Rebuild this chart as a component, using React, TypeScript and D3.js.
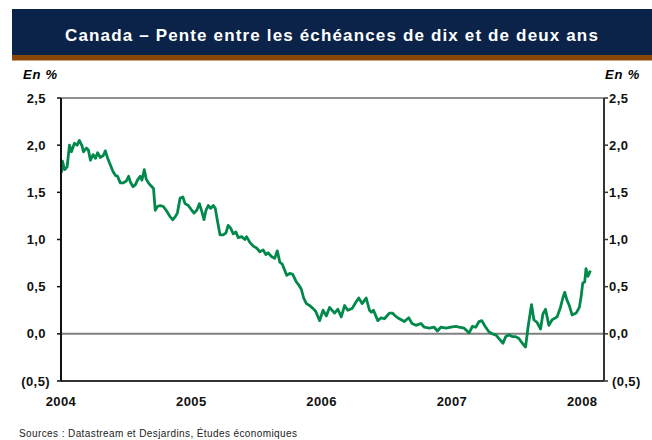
import React from 'react';
import * as d3 from 'd3';

// decimal years
const years = [
  2004.004, 2004.011, 2004.027, 2004.047, 2004.065, 2004.080, 2004.103, 2004.124, 2004.141, 2004.162,
  2004.172, 2004.195, 2004.210, 2004.226, 2004.246, 2004.264, 2004.281, 2004.302, 2004.325, 2004.340,
  2004.356, 2004.379, 2004.399, 2004.417, 2004.434, 2004.455, 2004.478, 2004.501, 2004.519, 2004.532,
  2004.552, 2004.570, 2004.587, 2004.608, 2004.621, 2004.639, 2004.654, 2004.671, 2004.690, 2004.710,
  2004.723, 2004.740, 2004.761, 2004.786, 2004.812, 2004.838, 2004.858, 2004.876, 2004.893, 2004.914,
  2004.935, 2004.952, 2004.977, 2005.003, 2005.021, 2005.042, 2005.062, 2005.080, 2005.097, 2005.113,
  2005.130, 2005.149, 2005.169, 2005.184, 2005.199, 2005.220, 2005.245, 2005.266, 2005.283, 2005.302,
  2005.322, 2005.342, 2005.360, 2005.386, 2005.411, 2005.424, 2005.449, 2005.475, 2005.501, 2005.526,
  2005.551, 2005.572, 2005.589, 2005.615, 2005.640, 2005.660, 2005.679, 2005.698, 2005.709, 2005.732,
  2005.755, 2005.778, 2005.806, 2005.824, 2005.845, 2005.862, 2005.883, 2005.908, 2005.933, 2005.954,
  2005.985, 2006.011, 2006.036, 2006.061, 2006.099, 2006.125, 2006.151, 2006.176, 2006.201, 2006.235,
  2006.265, 2006.285, 2006.311, 2006.342, 2006.367, 2006.382, 2006.398, 2006.431, 2006.457, 2006.482,
  2006.520, 2006.545, 2006.558, 2006.583, 2006.597, 2006.635, 2006.668, 2006.694, 2006.724, 2006.762,
  2006.788, 2006.826, 2006.864, 2006.889, 2006.915, 2006.954, 2006.992, 2007.030, 2007.055, 2007.094,
  2007.132, 2007.157, 2007.183, 2007.208, 2007.229, 2007.254, 2007.285, 2007.310, 2007.336, 2007.361,
  2007.392, 2007.412, 2007.438, 2007.463, 2007.489, 2007.514, 2007.540, 2007.565, 2007.585, 2007.611,
  2007.629, 2007.654, 2007.680, 2007.698, 2007.718, 2007.744, 2007.769, 2007.807, 2007.833, 2007.851,
  2007.866, 2007.882, 2007.901, 2007.922, 2007.953, 2007.978, 2007.992, 2008.004, 2008.019, 2008.029,
  2008.044, 2008.063,
];

// spread 10 ans - 2 ans, en %
const spread = [
  1.71, 1.83, 1.74, 1.77, 2.00, 1.93, 2.02, 2.00, 2.05, 1.99,
  1.93, 1.97, 1.95, 1.84, 1.90, 1.86, 1.92, 1.87, 1.89, 1.94,
  1.87, 1.79, 1.72, 1.68, 1.67, 1.60, 1.60, 1.62, 1.67, 1.61,
  1.56, 1.58, 1.63, 1.67, 1.63, 1.74, 1.64, 1.60, 1.57, 1.54,
  1.31, 1.35, 1.36, 1.35, 1.30, 1.24, 1.21, 1.24, 1.28, 1.44,
  1.45, 1.38, 1.36, 1.31, 1.28, 1.31, 1.38, 1.30, 1.21, 1.31,
  1.36, 1.33, 1.36, 1.33, 1.21, 1.05, 1.05, 1.07, 1.15, 1.12,
  1.06, 1.08, 1.02, 1.03, 1.00, 1.03, 0.97, 0.93, 0.91, 0.87,
  0.89, 0.84, 0.86, 0.82, 0.80, 0.88, 0.76, 0.74, 0.70, 0.62,
  0.64, 0.63, 0.55, 0.52, 0.47, 0.38, 0.32, 0.30, 0.27, 0.24,
  0.14, 0.25, 0.19, 0.28, 0.22, 0.26, 0.18, 0.30, 0.25, 0.27,
  0.34, 0.38, 0.32, 0.38, 0.25, 0.23, 0.25, 0.14, 0.17, 0.16,
  0.22, 0.22, 0.20, 0.17, 0.16, 0.13, 0.17, 0.11, 0.09, 0.11,
  0.07, 0.06, 0.07, 0.03, 0.07, 0.06, 0.07, 0.08, 0.07, 0.06,
  0.01, 0.08, 0.07, 0.13, 0.14, 0.08, 0.02, 0.00, -0.01, -0.05,
  -0.10, -0.03, -0.01, -0.03, -0.03, -0.05, -0.10, -0.14, 0.08, 0.31,
  0.15, 0.12, 0.05, 0.21, 0.26, 0.09, 0.15, 0.18, 0.28, 0.38,
  0.44, 0.36, 0.30, 0.20, 0.22, 0.28, 0.40, 0.54, 0.55, 0.69,
  0.61, 0.67,
];

const yTicks = [2.5, 2.0, 1.5, 1.0, 0.5, 0.0, -0.5];
const xTicks = [2004, 2005, 2006, 2007, 2008];

const title = 'Canada – Pente entre les échéances de dix et de deux ans';
const source = 'Sources : Datastream et Desjardins, Études économiques';

const W = 652;
const H = 440;
const plot = { left: 61, right: 604, top: 98, bottom: 381 };

const fmt = (v: number) => {
  const s = Math.abs(v).toFixed(1).replace('.', ',');
  return v < 0 ? `(${s})` : s;
};

const App = () => {
  const x = d3.scaleLinear().domain([2004, 2008.167]).range([plot.left, plot.right]);
  const y = d3.scaleLinear().domain([-0.5, 2.5]).range([plot.bottom, plot.top]);

  const line = d3.line<number>()
    .x((_, i) => x(years[i]))
    .y(d => y(d));

  const font = 'Arial, "Liberation Sans", sans-serif';

  return (
    <div style={{ position: 'fixed', left: 0, top: 0 }}>
      <svg width={W} height={H} style={{ display: 'block', background: '#fff' }} fontFamily={font}>
        {/* title band */}
        <rect x={12} y={9} width={W - 12} height={46} fill="#0b2349" />
        <rect x={12} y={55} width={W - 12} height={5} fill="#8a4709" />
        <rect x={12} y={60} width={W - 12} height={1} fill="#c9a47a" />
        <text x={332} y={41} textAnchor="middle" fill="#fff" fontSize={17} fontWeight="bold" letterSpacing={1.15}>{title}</text>

        <text x={23} y={79} fontSize={13} fontWeight="bold" fontStyle="italic" fill="#000" letterSpacing={0.8}>En %</text>
        <text x={640} y={79} textAnchor="end" fontSize={13} fontWeight="bold" fontStyle="italic" fill="#000" letterSpacing={0.8}>En %</text>

        {/* frame */}
        <line x1={plot.left} x2={plot.right} y1={plot.top} y2={plot.top} stroke="#6b6b6b" strokeWidth={1.5} />
        <line x1={plot.left} x2={plot.right} y1={y(0)} y2={y(0)} stroke="#808080" strokeWidth={2} />

        {/* series */}
        <path d={line(spread) ?? ''} fill="none" stroke="#00894b" strokeWidth={2.8} strokeLinejoin="round" />

        <line x1={plot.left} x2={plot.right} y1={plot.bottom} y2={plot.bottom} stroke="#333" strokeWidth={2} />
        <line x1={plot.left} x2={plot.left} y1={plot.top} y2={plot.bottom} stroke="#111" strokeWidth={2} />
        <line x1={plot.right} x2={plot.right} y1={plot.top} y2={plot.bottom} stroke="#333" strokeWidth={2} />

        {yTicks.map(t => (
          <g key={t}>
            <line x1={plot.left - 4} x2={plot.left} y1={y(t)} y2={y(t)} stroke="#111" strokeWidth={1.5} />
            <line x1={plot.right} x2={plot.right + 4} y1={y(t)} y2={y(t)} stroke="#333" strokeWidth={1.5} />
            <text x={t < 0 ? 50 : 46} y={y(t) + 4.5} textAnchor="end" fontSize={13} fontWeight="bold" fill="#111" letterSpacing={0.4}>{fmt(t)}</text>
            <text x={t < 0 ? 612 : 609} y={y(t) + 4.5} fontSize={13} fontWeight="bold" fill="#111" letterSpacing={0.4}>{fmt(t)}</text>
          </g>
        ))}

        {xTicks.map(t => (
          <text key={t} x={x(t)} y={406} textAnchor="middle" fontSize={13} fontWeight="bold" fill="#111" letterSpacing={0.4}>{t}</text>
        ))}

        <text x={19} y={437} fontSize={10} fill="#222" letterSpacing={0.4}>{source}</text>
      </svg>
    </div>
  );
};

export default App;
